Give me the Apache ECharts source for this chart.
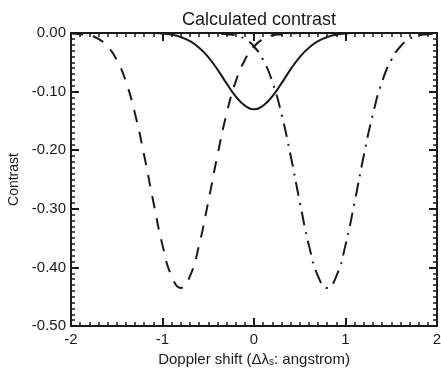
<!DOCTYPE html>
<html>
<head>
<meta charset="utf-8">
<style>
  html, body { margin: 0; padding: 0; background: #fff; }
  #chart { width: 441px; height: 369px; }
</style>
<script src="https://cdn.jsdelivr.net/npm/echarts@6/dist/echarts.min.js"></script>
</head>
<body>
<div id="chart"></div>
<script>
// Doppler shift samples (angstrom)
const shifts = [-2.0, -1.9, -1.8, -1.7, -1.6, -1.5, -1.4, -1.3, -1.2, -1.1,
                -1.0, -0.9, -0.8, -0.7, -0.6, -0.5, -0.4, -0.3, -0.2, -0.1,
                 0.0,  0.1,  0.2,  0.3,  0.4,  0.5,  0.6,  0.7,  0.8,  0.9,
                 1.0,  1.1,  1.2,  1.3,  1.4,  1.5,  1.6,  1.7,  1.8,  1.9, 2.0];

// Contrast, unshifted line (solid)
const contrastCentre = [0, 0, 0, 0, 0, 0, 0, 0, 0, 0,
  -0.001, -0.003, -0.007, -0.014, -0.025, -0.041, -0.062, -0.086, -0.108, -0.124,
  -0.130,
  -0.124, -0.108, -0.086, -0.062, -0.041, -0.025, -0.014, -0.007, -0.003, -0.001,
  0, 0, 0, 0, 0, 0, 0, 0, 0, 0];

// Contrast, blue-shifted line (dashed)
const contrastBlue = [-0.001, -0.002, -0.004, -0.010, -0.023, -0.046, -0.083, -0.138, -0.209, -0.288,
  -0.362, -0.415, -0.435, -0.415, -0.362, -0.288, -0.209, -0.138, -0.083, -0.046,
  -0.023, -0.010, -0.004, -0.002, -0.001,
  0, 0, 0, 0, 0, 0, 0, 0, 0, 0, 0, 0, 0, 0, 0, 0];

// Contrast, red-shifted line (dash-dot)
const contrastRed = [0, 0, 0, 0, 0, 0, 0, 0, 0, 0, 0, 0, 0, 0, 0, 0,
  -0.001, -0.002, -0.004, -0.010, -0.023, -0.046, -0.083, -0.138, -0.209, -0.288,
  -0.362, -0.415, -0.435, -0.415, -0.362, -0.288, -0.209, -0.138, -0.083, -0.046,
  -0.023, -0.010, -0.004, -0.002, -0.001];

const xTicks = [-2, -1, 0, 1, 2];
const yTicks = [0.00, -0.10, -0.20, -0.30, -0.40, -0.50];

const ink = '#1a1a1a';
const font = 'Liberation Sans, Arial, Helvetica, sans-serif';

function pairs(ys) { return shifts.map((x, i) => [x, ys[i]]); }

const tickCommon = {
  axisLine: { show: true, onZero: false, lineStyle: { color: ink, width: 2 } },
  axisTick: { show: true, inside: true, length: 8, lineStyle: { color: ink, width: 2 } },
  minorTick: { show: true, splitNumber: 10, length: 4, lineStyle: { color: ink, width: 1.5 } },
  splitLine: { show: false },
  minorSplitLine: { show: false }
};

const chart = echarts.init(document.getElementById('chart'), null, { renderer: 'canvas' });
chart.setOption({
  animation: false,
  backgroundColor: '#ffffff',
  title: {
    text: 'Calculated contrast',
    left: 254, top: 6, textAlign: 'center',
    textStyle: { fontFamily: font, fontSize: 18, fontWeight: 'normal', color: ink }
  },
  grid: { left: 71, right: 4, top: 33, bottom: 43, containLabel: false, outerBoundsMode: 'none' },
  xAxis: [
    Object.assign({
      type: 'value', position: 'bottom',
      min: xTicks[0], max: xTicks[xTicks.length - 1], interval: 1,
      name: 'Doppler shift (\u0394\u03bb{sub|s}: angstrom)',
      nameLocation: 'middle', nameGap: 23,
      nameTextStyle: {
        fontFamily: font, fontSize: 15, color: ink,
        rich: { sub: { fontFamily: font, fontSize: 10, color: ink, verticalAlign: 'bottom', padding: [6, 0, 0, 0] } }
      },
      axisLabel: { margin: 6, fontFamily: font, fontSize: 15, color: ink, formatter: v => String(v) }
    }, tickCommon),
    Object.assign({
      type: 'value', position: 'top',
      min: xTicks[0], max: xTicks[xTicks.length - 1], interval: 1,
      axisLabel: { show: false }
    }, tickCommon)
  ],
  yAxis: [
    Object.assign({
      type: 'value', position: 'left',
      min: yTicks[yTicks.length - 1], max: yTicks[0], interval: 0.1,
      name: 'Contrast', nameLocation: 'middle', nameGap: 48,
      nameTextStyle: { fontFamily: font, fontSize: 14, color: ink },
      axisLabel: { margin: 5, fontFamily: font, fontSize: 15, color: ink, formatter: v => (Math.abs(v) < 1e-9 ? 0 : v).toFixed(2) }
    }, tickCommon),
    Object.assign({
      type: 'value', position: 'right',
      min: yTicks[yTicks.length - 1], max: yTicks[0], interval: 0.1,
      axisLabel: { show: false }
    }, tickCommon)
  ],
  series: [
    {
      name: 'centre', type: 'line', data: pairs(contrastCentre), showSymbol: false, smooth: 0.5,
      lineStyle: { color: ink, width: 2, type: 'solid' }, z: 3
    },
    {
      name: 'blue', type: 'line', data: pairs(contrastBlue), showSymbol: false, smooth: 0.5,
      lineStyle: { color: ink, width: 2, type: [12, 10] }, z: 3
    },
    {
      name: 'red', type: 'line', data: pairs(contrastRed), showSymbol: false, smooth: 0.5,
      lineStyle: { color: ink, width: 2, type: [14, 7, 2, 7] }, z: 3
    }
  ]
});
</script>
</body>
</html>
